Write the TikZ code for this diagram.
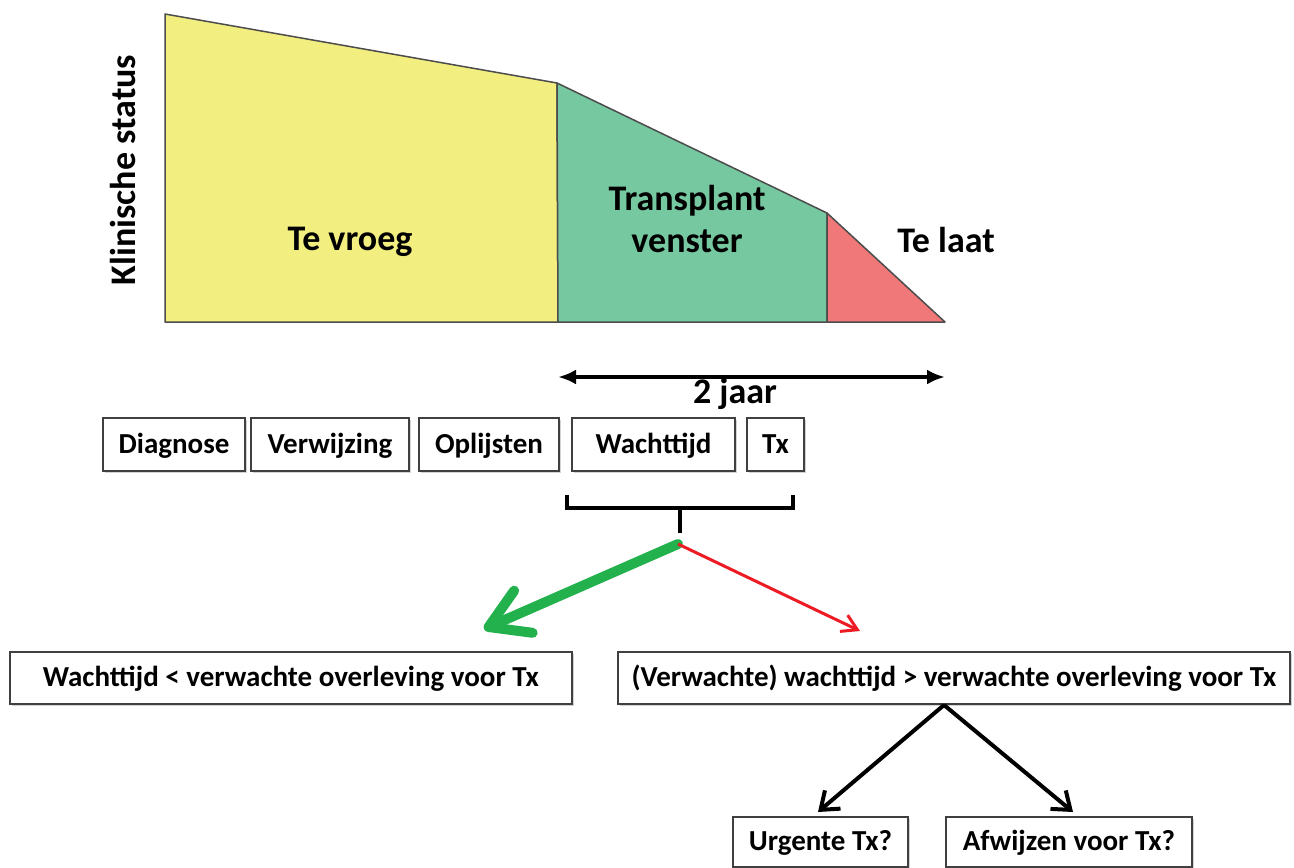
\documentclass[tikz,border=0pt]{standalone}
\usepackage{fontspec}
\setmainfont{Carlito}
\usepackage{xcolor}
\usepackage{tikz}
\usetikzlibrary{positioning, calc, arrows.meta, shadows}
\definecolor{EarlyColor}{RGB}{243,238,128}
\definecolor{WindowColor}{RGB}{118,200,160}
\definecolor{LateColor}{RGB}{240,120,120}
\definecolor{YesColor}{RGB}{34,177,76}
\definecolor{NoColor}{RGB}{237,28,36}
\tikzset{
    stage/.style={
        rectangle,
        draw=black!75,
        line width=2pt,
        fill=white,
        minimum height=53pt,
        inner sep=0pt,
        outer sep=0pt,
        text height=23pt,
        text depth=6pt,
        font=\fontsize{29}{34}\selectfont\bfseries,
        drop shadow={shadow xshift=1.5pt, shadow yshift=-2pt, opacity=0.35}
    },
    region/.style={draw=black!70, line width=1.5pt, line join=round},
    bigtext/.style={font=\fontsize{36}{43}\selectfont\bfseries},
    branch/.style={line width=4pt, -{Straight Barb[length=16pt,width=24pt]}}
}

\begin{document}
\begin{tikzpicture}[x=1pt, y=-1pt]
\useasboundingbox (0,0) rectangle (1294,868);

% Clinical status curve
\draw[region, fill=EarlyColor] (165,14) -- (557,83) -- (558,322) -- (165,322) -- cycle;
\draw[region, fill=WindowColor] (557,83) -- (827,213) -- (827,322) -- (558,322) -- cycle;
\draw[region, fill=LateColor] (827,213) -- (945,322) -- (827,322) -- cycle;

\node[bigtext, rotate=90] (axis) at (123,170) {Klinische status};
\node[bigtext, anchor=base] (early) at (350,250) {Te vroeg};
\node[bigtext, anchor=base, align=center] (window) at (687,252) {Transplant\\[-0.05em]venster};
\node[bigtext, anchor=base] (late) at (946,252) {Te laat};

% Two year span
\coordinate (spanL) at (558,377);
\coordinate (spanR) at (945,377);
\draw[line width=4pt, {Latex[length=18pt,width=15pt]}-{Latex[length=18pt,width=15pt]}] (spanL) -- (spanR);
\node[bigtext, anchor=base] (span) at (735,403) {2 jaar};

% Stages
\node[stage, minimum width=142pt] (diag) at (174,444.5) {Diagnose};
\node[stage, minimum width=158pt, right=6pt of diag] (verw) {Verwijzing};
\node[stage, minimum width=140pt, right=10pt of verw] (oplijst) {Oplijsten};
\node[stage, minimum width=163pt, right=13pt of oplijst] (wacht) {Wachttijd};
\node[stage, minimum width=57pt, right=12pt of wacht] (tx) {Tx};

% Bracket
\coordinate (brL) at (567,495);
\coordinate (brR) at (793,495);
\coordinate (brM) at (680,508);
\coordinate (brS) at (680,533);
\draw[line width=4pt] (brL) |- (brM) -| (brR);
\draw[line width=4pt] (brM) -- (brS);

% Outcomes
\node[stage, minimum width=562pt, minimum height=52pt] (shorter) at (291,678) {Wachttijd < verwachte overleving voor Tx};
\node[stage, minimum width=672pt, minimum height=52pt] (longer) at (954,678) {(Verwachte) wachttijd > verwachte overleving voor Tx};

\coordinate (split) at (678,544);
\coordinate (yesTip) at (484,629);
\coordinate (noTip) at (860,631);
\draw[line width=10pt, YesColor, line cap=round, -{Straight Barb[round, length=38pt,width=46pt]}] (split) -- (yesTip);
\draw[line width=3pt, NoColor, -{Straight Barb[length=15pt,width=18pt]}] (split) -- (noTip);

% Options
\node[stage, minimum width=175pt, minimum height=50pt] (urgent) at (820.5,842) {Urgente Tx?};
\node[stage, minimum width=246pt, minimum height=50pt] (reject) at (1069,842) {Afwijzen voor Tx?};

\coordinate (fork) at (944,705);
\coordinate (urgTip) at (818,812);
\coordinate (rejTip) at (1073,812);
\draw[branch] (fork) -- (urgTip);
\draw[branch] (fork) -- (rejTip);

\end{tikzpicture}
\end{document}
